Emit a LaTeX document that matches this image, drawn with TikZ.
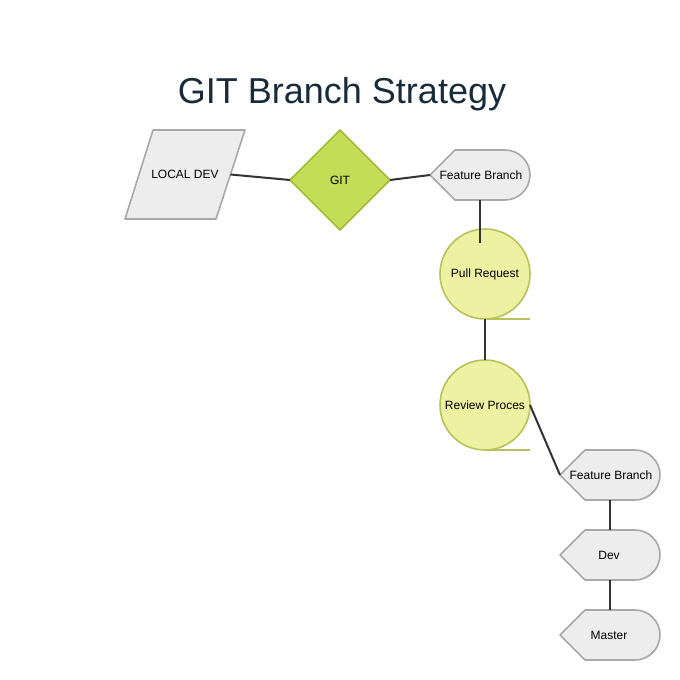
\documentclass[tikz,border=0pt]{standalone}
\usepackage{fontspec}
\setmainfont{Liberation Sans}
\usetikzlibrary{shapes.geometric}
\definecolor{titlec}{HTML}{172B3A}
\definecolor{grayfill}{HTML}{EDEDED}
\definecolor{graystroke}{HTML}{A8A8A8}
\definecolor{circfill}{HTML}{EEF0A2}
\definecolor{circstroke}{HTML}{B8C25A}
\definecolor{diafill}{HTML}{C5DC57}
\definecolor{diastroke}{HTML}{A2B93C}
\definecolor{linec}{HTML}{333333}
\tikzset{
  txt/.style={font=\fontsize{12}{14}\selectfont, inner sep=0pt, outer sep=0pt},
  dispbox/.style={txt, minimum width=100pt, minimum height=50pt},
  grayline/.style={draw=graystroke, fill=grayfill, line width=1.6pt, line join=round},
  seqcirc/.style={txt, circle, draw=circstroke, fill=circfill, line width=1.6pt, minimum size=90pt},
  conn/.style={draw=linec, line width=2pt},
}
\newcommand{\displayshape}[1]{%
  \draw[grayline] (#1.west) -- ([xshift=25pt]#1.north west) -- ([xshift=-25pt]#1.north east)
    arc[start angle=90, end angle=-90, radius=25pt] -- ([xshift=25pt]#1.south west) -- cycle;}
\begin{document}
\begin{tikzpicture}[x=1pt,y=-1pt]
\useasboundingbox (0,0) rectangle (680,680);
% title
\node[font=\fontsize{36}{40}\selectfont, text=titlec, anchor=base] (title) at (342,103) {GIT Branch Strategy};
% local dev parallelogram
\node[txt, minimum width=91pt, minimum height=89pt] (ld) at (185,174.5) {};
\draw[grayline] (153,130) -- (245,130) -- (216,219) -- (125,219) -- cycle;
\node[txt] (ldt) at (ld.center) {LOCAL DEV};
% git diamond
\node[txt, diamond, aspect=1, minimum width=100pt, minimum height=100pt, draw=diastroke, fill=diafill, line width=1.6pt] (git) at (340,180) {GIT};
% feature branch 1
\node[dispbox] (fb1) at (480,175) {};
\displayshape{fb1}
\node[txt] (fb1t) at (481,175) {Feature Branch};
% pull request
\node[seqcirc] (pr) at (485,274) {Pull Request};
\draw[draw=circstroke, line width=1.6pt] (pr.south) -- ++(45,0);
% review
\node[seqcirc] (rv) at (485,405) {Review Proces};
\draw[draw=circstroke, line width=1.6pt] (rv.south) -- ++(45,0);
% feature branch 2, dev, master
\node[dispbox] (fb2) at (610,475) {};
\displayshape{fb2}
\node[txt] (fb2t) at (611,475) {Feature Branch};
\node[dispbox] (dev) at (610,555) {};
\displayshape{dev}
\node[txt] (devt) at (609,555) {Dev};
\node[dispbox] (ms) at (610,635) {};
\displayshape{ms}
\node[txt] (mst) at (609,635) {Master};
% connectors
\draw[conn] (ld.east) -- (git.west);
\draw[conn] (git.east) -- (fb1.west);
\draw[conn] (fb1.south) -- ([xshift=-5pt,yshift=-14pt]pr.north);
\draw[conn] (pr.south) -- (rv.north);
\draw[conn] (rv.east) -- (fb2.west);
\draw[conn] (fb2.south) -- (dev.north);
\draw[conn] (dev.south) -- (ms.north);
\end{tikzpicture}
\end{document}
